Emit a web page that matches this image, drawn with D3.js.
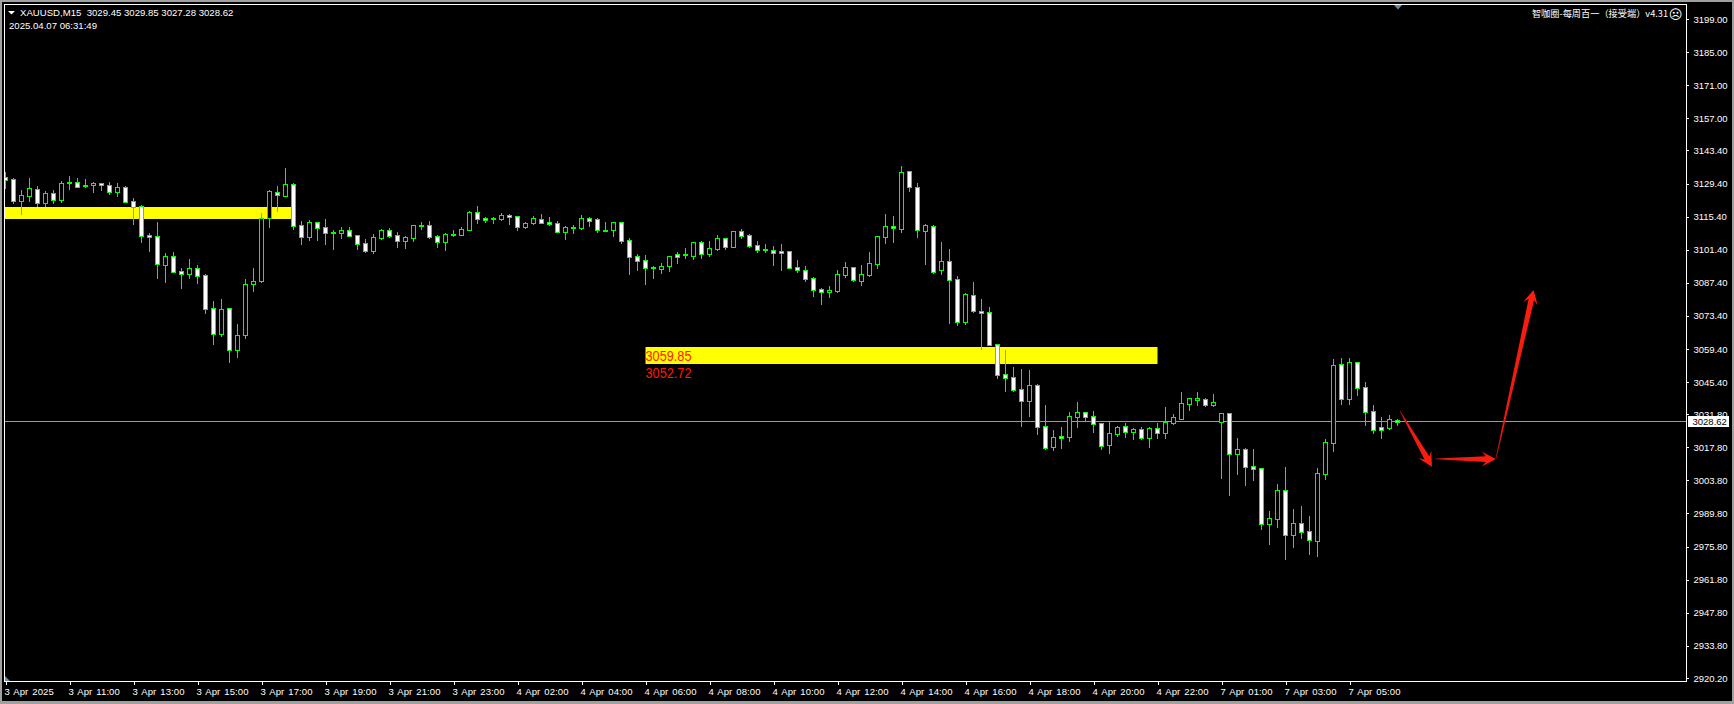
<!DOCTYPE html>
<html><head><meta charset="utf-8">
<script src="https://cdnjs.cloudflare.com/ajax/libs/d3/7.8.5/d3.min.js"></script>
<style>
html,body{margin:0;padding:0;background:#000;overflow:hidden}
svg{display:block}
text{font-family:"Liberation Sans",sans-serif;fill:#fff}
</style></head><body><svg id="c" width="1734" height="704"></svg>
<script>
const opens=[3132.0,3131.2,3122.2,3124.3,3127.0,3121.3,3125.3,3122.4,3129.5,3129.9,
3128.7,3128.7,3129.5,3128.7,3125.6,3127.8,3121.9,3119.8,3107.5,3107.0,
3095.1,3098.6,3092.3,3091.3,3093.5,3090.6,3076.6,3065.9,3076.6,3059.1,
3065.1,3086.8,3088.3,3114.6,3125.7,3124.3,3129.1,3111.7,3106.9,3113.0,
3111.0,3108.9,3108.6,3109.6,3107.5,3104.1,3100.8,3106.3,3109.6,3107.5,
3105.1,3106.3,3111.4,3111.7,3107.0,3104.6,3107.6,3107.7,3109.9,3117.2,
3114.8,3114.8,3114.4,3115.9,3115.5,3111.0,3112.7,3114.5,3113.0,3112.5,
3109.0,3110.8,3110.6,3114.7,3114.2,3109.9,3109.9,3113.0,3105.3,3098.6,
3096.9,3094.0,3093.4,3094.7,3099.5,3099.5,3098.9,3104.5,3099.7,3101.9,
3106.2,3102.7,3109.2,3107.5,3103.3,3101.6,3101.1,3100.7,3100.7,3094.0,
3092.7,3089.3,3084.7,3083.3,3084.1,3090.9,3094.0,3088.3,3090.9,3095.5,
3106.9,3111.3,3110.3,3134.6,3127.8,3109.5,3111.3,3092.6,3096.5,3088.9,
3071.0,3082.1,3075.3,3074.9,3061.4,3048.7,3047.4,3042.3,3037.5,3044.0,
3026.7,3018.1,3022.5,3022.3,3030.8,3032.6,3030.9,3028.0,3018.9,3023.6,
3026.7,3024.4,3025.4,3021.9,3025.8,3024.0,3028.2,3029.9,3036.3,3038.0,
3038.1,3035.8,3028.7,3032.2,3015.1,3017.0,3009.8,3008.9,2985.5,2987.6,
2999.6,2980.9,2985.6,2982.3,2978.3,3006.7,3019.8,3052.9,3038.4,3053.8,
3043.2,3033.0,3026.3,3026.1,3029.45];
const highs=[3134.3,3131.7,3126.7,3131.7,3128.4,3126.1,3126.7,3130.5,3132.6,3131.7,
3131.3,3130.1,3129.6,3130.1,3129.6,3128.4,3123.3,3120.3,3108.5,3113.1,
3100.0,3100.4,3093.7,3097.5,3095.0,3091.1,3079.7,3080.6,3076.8,3070.0,
3089.0,3093.7,3117.0,3126.7,3128.4,3136.0,3129.6,3113.6,3114.0,3113.1,
3114.4,3109.7,3111.0,3111.0,3107.5,3105.9,3108.0,3110.1,3110.6,3108.9,
3107.2,3111.8,3113.1,3113.5,3107.6,3108.5,3109.7,3111.0,3117.8,3119.9,
3115.2,3115.2,3116.9,3116.5,3115.6,3113.1,3115.6,3116.5,3115.2,3113.5,
3111.4,3111.8,3116.1,3115.2,3114.8,3113.1,3113.0,3113.1,3106.3,3099.6,
3099.2,3094.5,3095.8,3098.8,3100.4,3102.1,3104.7,3105.1,3105.1,3107.6,
3106.4,3109.3,3110.2,3108.1,3105.1,3103.8,3103.0,3103.8,3100.9,3097.1,
3094.5,3089.9,3085.2,3086.1,3092.8,3096.2,3094.1,3095.0,3100.4,3107.0,
3116.5,3115.7,3136.8,3134.6,3129.6,3112.3,3111.9,3104.7,3101.7,3090.3,
3083.1,3087.7,3080.5,3077.2,3061.5,3059.0,3051.8,3050.9,3050.5,3044.6,
3035.7,3025.1,3026.4,3032.7,3037.0,3032.6,3033.2,3028.1,3028.5,3026.8,
3028.1,3026.0,3026.4,3026.4,3028.1,3034.9,3031.9,3041.2,3038.5,3041.2,
3038.7,3040.4,3032.2,3032.2,3021.7,3017.5,3017.1,3008.9,2990.9,3002.3,
3009.5,2991.7,2993.0,2988.8,3009.1,3021.3,3055.2,3055.6,3055.6,3053.9,
3045.4,3035.7,3030.6,3031.5,3029.85];
const lows=[3127.5,3121.2,3116.5,3122.0,3119.9,3119.9,3121.2,3121.6,3127.1,3127.8,
3127.9,3125.8,3126.7,3125.0,3124.1,3121.6,3112.3,3104.7,3100.9,3089.4,
3087.8,3092.0,3085.2,3089.4,3087.3,3074.7,3061.5,3064.9,3053.9,3056.0,
3064.1,3084.0,3087.8,3111.0,3117.8,3124.1,3110.2,3103.8,3105.5,3105.5,
3103.8,3101.7,3106.3,3107.2,3101.7,3100.4,3100.0,3105.9,3106.8,3102.5,
3102.1,3105.1,3110.1,3106.3,3102.5,3101.3,3107.2,3107.6,3109.7,3112.7,
3113.1,3112.7,3113.9,3112.3,3109.7,3110.6,3112.3,3112.7,3111.8,3108.9,
3105.9,3108.5,3110.1,3111.4,3108.9,3109.3,3107.2,3104.2,3091.1,3092.8,
3086.9,3089.4,3091.6,3092.4,3095.8,3097.9,3097.5,3097.9,3098.7,3101.3,
3101.7,3102.5,3106.4,3102.5,3100.4,3100.4,3095.0,3092.8,3093.7,3092.0,
3088.2,3081.8,3078.5,3081.4,3083.5,3089.9,3088.3,3086.5,3090.3,3093.7,
3104.3,3104.7,3108.9,3126.3,3106.8,3095.4,3091.6,3091.1,3070.4,3069.6,
3070.0,3075.0,3059.4,3061.1,3047.1,3041.6,3041.6,3026.8,3031.1,3023.4,
3017.1,3016.7,3017.5,3020.5,3026.4,3028.9,3024.3,3017.1,3015.4,3022.6,
3022.2,3021.3,3021.3,3017.9,3021.7,3021.7,3027.7,3029.8,3033.6,3035.7,
3035.3,3035.3,3004.8,2997.6,3006.5,3001.9,3004.0,2983.3,2976.9,2984.1,
2970.6,2975.6,2979.4,2972.7,2971.8,3004.4,3016.2,3036.1,3036.1,3039.9,
3027.2,3023.9,3021.7,3025.6,3027.28];
const closes=[3130.9,3122.2,3124.4,3127.4,3121.3,3125.3,3122.6,3129.5,3129.9,3128.1,
3128.2,3129.5,3128.7,3125.6,3127.8,3121.7,3119.6,3107.4,3106.9,3095.5,
3098.6,3092.1,3091.3,3093.5,3090.4,3076.5,3065.9,3076.2,3059.1,3065.2,
3086.8,3088.0,3114.7,3126.1,3124.4,3129.1,3111.6,3106.9,3113.0,3110.7,
3108.5,3108.6,3109.6,3107.3,3103.9,3100.8,3106.6,3109.6,3107.2,3105.1,
3106.6,3111.7,3111.7,3106.8,3104.6,3107.9,3108.0,3110.0,3117.2,3114.4,
3114.1,3114.5,3115.9,3115.4,3111.1,3112.5,3114.7,3112.8,3112.4,3109.0,
3110.8,3110.6,3114.7,3113.7,3109.9,3109.6,3113.0,3105.2,3098.4,3096.7,
3093.8,3093.5,3094.7,3098.6,3098.5,3099.0,3104.5,3099.7,3102.0,3106.2,
3102.7,3109.2,3107.4,3103.1,3101.4,3101.1,3100.2,3100.2,3093.8,3092.6,
3089.2,3084.5,3083.3,3084.2,3091.0,3094.0,3088.5,3091.0,3095.7,3107.0,
3111.3,3110.7,3134.2,3127.8,3109.6,3111.7,3092.1,3096.5,3088.5,3071.0,
3082.5,3075.6,3074.8,3061.2,3048.5,3047.3,3042.2,3037.5,3044.0,3026.5,
3017.7,3022.0,3021.9,3030.9,3032.6,3030.8,3027.8,3018.5,3023.7,3026.3,
3024.4,3025.4,3021.9,3025.8,3024.0,3028.4,3030.5,3036.4,3038.5,3038.5,
3035.8,3037.1,3032.2,3015.1,3017.0,3009.6,3008.8,2985.5,2987.8,2999.6,
2980.9,2985.6,2982.1,2978.5,3006.8,3019.9,3052.5,3038.4,3053.8,3043.0,
3032.9,3025.3,3025.3,3029.6,3028.62];
const priceTicks=[3199,3185,3171,3157,3143.4,3129.4,3115.4,3101.4,3087.4,3073.4,3059.4,3045.4,3031.8,3017.8,3003.8,2989.8,2975.8,2961.8,2947.8,2933.8,2920.2];
const timeLabels=["3 Apr 2025","3 Apr 11:00","3 Apr 13:00","3 Apr 15:00","3 Apr 17:00","3 Apr 19:00","3 Apr 21:00","3 Apr 23:00","4 Apr 02:00","4 Apr 04:00","4 Apr 06:00","4 Apr 08:00","4 Apr 10:00","4 Apr 12:00","4 Apr 14:00","4 Apr 16:00","4 Apr 18:00","4 Apr 20:00","4 Apr 22:00","7 Apr 01:00","7 Apr 03:00","7 Apr 05:00"];
const barsPerLabel=8;
const currentPrice=3028.62;
const bands=[{from:-1,to:35.7,top:3119.4,bottom:3114.3},{from:80,to:144,top:3059.85,bottom:3052.72}];
const bandLabels=[3059.85,3052.72];
const arrows=[{a:[174.3,3033.2],b:[178.3,3009.6]},{a:[178.7,3012.9],b:[186.3,3012.8]},{a:[186.3,3012.9],b:[191,3084.4]}];

const L=4,T=4,R=1686,B=681;
const x=d3.scaleLinear().domain([0,1]).range([5.5,13.5]);
const y=d3.scaleLinear().domain([2920.2,3199]).range([678,19]);
const py=v=>Math.round(y(v));
const svg=d3.select("#c");
const defs=svg.append("defs");
defs.append("clipPath").attr("id","plot").append("rect").attr("x",L+1).attr("y",T+1).attr("width",R-L-1).attr("height",B-T-1);

// window border
svg.append("rect").attr("width",1734).attr("height",704).attr("fill","#000");
const win=svg.append("g").attr("fill","#a0a0a0").attr("shape-rendering","crispEdges");
win.append("rect").attr("width",1734).attr("height",2);
win.append("rect").attr("width",2).attr("height",704);
win.append("rect").attr("x",1732).attr("width",2).attr("height",704);
win.append("rect").attr("y",701).attr("width",1734).attr("height",3);

const plot=svg.append("g").attr("clip-path","url(#plot)");
plot.append("g").selectAll("rect").data(bands).join("rect")
  .attr("x",d=>x(d.from)).attr("width",d=>x(d.to)-x(d.from))
  .attr("y",d=>Math.floor(y(d.top))).attr("height",d=>Math.floor(y(d.bottom))-Math.floor(y(d.top)))
  .attr("fill","#ffff00");
plot.append("line").attr("x1",L).attr("x2",R).attr("y1",421.5).attr("y2",421.5)
  .attr("data-price",currentPrice).attr("stroke","#9a9a9a").attr("shape-rendering","crispEdges");

const idx=d3.range(opens.length);
const candles=plot.append("g").attr("shape-rendering","crispEdges");
candles.selectAll("line").data(idx).join("line")
  .attr("x1",i=>x(i)).attr("x2",i=>x(i))
  .attr("y1",i=>py(highs[i])).attr("y2",i=>py(lows[i])+1)
  .attr("stroke","#00ff00");
candles.selectAll("rect").data(idx).join("rect")
  .attr("x",i=>x(i)-2).attr("width",4)
  .attr("y",i=>py(Math.max(opens[i],closes[i]))+0.5)
  .attr("height",i=>Math.max(1,py(Math.min(opens[i],closes[i]))-py(Math.max(opens[i],closes[i]))))
  .attr("fill",i=>closes[i]<opens[i]?"#fff":"#000")
  .attr("stroke","#00ff00");

// arrows, built from data-space endpoints
const grad=(id,p,q)=>{const g=defs.append("linearGradient").attr("id",id).attr("gradientUnits","userSpaceOnUse")
  .attr("x1",p[0]).attr("y1",p[1]).attr("x2",q[0]).attr("y2",q[1]);
  g.append("stop").attr("offset",0).attr("stop-color","#9a1208");
  g.append("stop").attr("offset",0.15).attr("stop-color","#e81a10");
  g.append("stop").attr("offset",1).attr("stop-color","#ff1d0e");};
arrows.forEach((d,k)=>{
  const p=[x(d.a[0]),y(d.a[1])],q=[x(d.b[0]),y(d.b[1])];
  const len=Math.hypot(q[0]-p[0],q[1]-p[1]),ux=(q[0]-p[0])/len,uy=(q[1]-p[1])/len,nx=-uy,ny=ux;
  const at=(back,side)=>[q[0]-ux*back+nx*side,q[1]-uy*back+ny*side];
  const tail=[[p[0]-nx*0.4,p[1]-ny*0.4],[p[0]+nx*0.4,p[1]+ny*0.4]];
  grad("ag"+k,p,q);
  plot.append("path").attr("d",d3.line()([tail[1],at(10,2.8),at(14,7.4),q,at(14,-7.4),at(10,-2.8),tail[0]])+"Z").attr("fill",`url(#ag${k})`);
});

// band value labels
plot.append("g").selectAll("text").data(bandLabels).join("text")
  .attr("x",x(80)).attr("y",(d,i)=>i==0?Math.floor(y(bands[1].top))+13.5:Math.floor(y(bands[1].bottom))+14)
  .attr("font-size",15).attr("textLength",46).attr("lengthAdjust","spacingAndGlyphs")
  .style("fill","#ff1a00").text(d=>d.toFixed(2));

// axes
const yAxis=d3.axisRight(y).tickValues(priceTicks).tickSize(3).tickPadding(4).tickFormat(d3.format(".2f"));
const yg=svg.append("g").attr("transform",`translate(${R},0)`).call(yAxis);
const xAxis=d3.axisBottom(x).tickValues(timeLabels.map((_,i)=>i*barsPerLabel)).tickSize(4).tickPadding(4)
  .tickFormat((_,i)=>timeLabels[i]);
const xg=svg.append("g").attr("transform",`translate(0,${B})`).call(xAxis);
[yg,xg].forEach(g=>{g.select(".domain").remove();
  g.selectAll("line").attr("stroke","#fff").attr("shape-rendering","crispEdges");
  g.selectAll("text").attr("font-size",9.5).attr("font-family",null);});
xg.selectAll("text").attr("text-anchor","start").attr("dx",-1.5).attr("y",7).attr("dy","0.71em").attr("word-spacing",1.2).attr("letter-spacing",0.1);
yg.selectAll("text").attr("dx",0.5).attr("letter-spacing",-0.05);

// frame
svg.append("rect").attr("x",L+0.5).attr("y",T+0.5).attr("width",R-L).attr("height",B-T)
  .attr("fill","none").attr("stroke","#fff").attr("shape-rendering","crispEdges");

// current price tag
svg.append("rect").attr("x",1688).attr("y",416).attr("width",41).attr("height",11).attr("fill","#fff");
svg.append("text").attr("x",1692.5).attr("y",425).attr("font-size",9.5).style("fill","#000").text(currentPrice.toFixed(2));

// corner markers
svg.append("path").attr("d",d3.line()([[1394,5],[1402,5],[1398,9.5]])+"Z").attr("fill","#6f8aa0");
svg.append("path").attr("d",d3.line()([[5,676],[5,681],[10,681]])+"Z").attr("fill","#6f8aa0");

// header
svg.append("path").attr("d",d3.line()([[8,11],[15,11],[11.5,14.5]])+"Z").attr("fill","#fff");
svg.append("text").attr("x",20).attr("y",16).attr("font-size",9.6).attr("xml:space","preserve").text("XAUUSD,M15  3029.45 3029.85 3027.28 3028.62");
svg.append("text").attr("x",9).attr("y",29).attr("font-size",9.6).text("2025.04.07 06:31:49");
svg.append("text").attr("x",1668).attr("y",17).attr("text-anchor","end").attr("font-size",9.2)
  .style("font-family",'"Noto Sans CJK SC"').text("智咖圈-每周百一（接受端）v4.31");
svg.append("text").attr("x",1675.5).attr("y",18.5).attr("text-anchor","middle").attr("font-size",13)
  .style("font-family",'"DejaVu Sans"').text("☹");
</script></body></html>
